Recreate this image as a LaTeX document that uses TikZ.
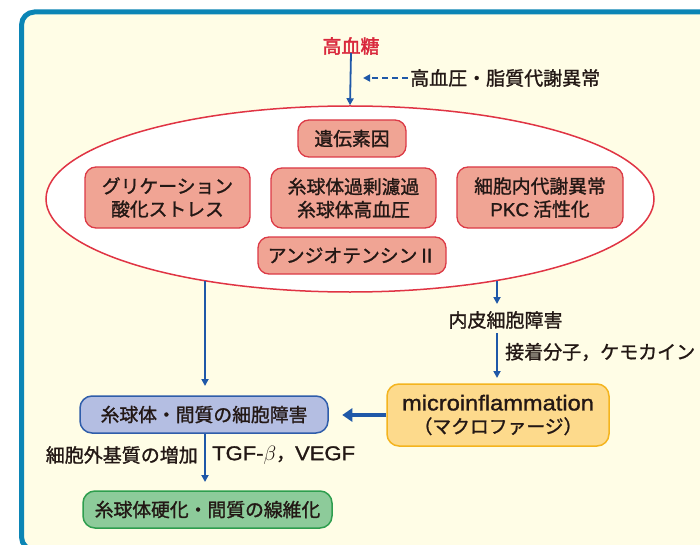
\documentclass[tikz,border=0pt]{standalone}
\usepackage{fontspec}
\setmainfont[FakeBold=1.3]{Noto Sans CJK JP}
\newfontfamily\latinfont[FakeBold=1.3]{Liberation Sans}
\newfontfamily\latinwide[FakeStretch=1.1,FakeBold=1.3]{Liberation Sans}
\newfontfamily\heavyfont[FakeBold=2.2]{Noto Sans CJK JP}
\usetikzlibrary{arrows.meta,shapes.geometric}
\definecolor{cream}{HTML}{FFFDE6}
\definecolor{framec}{HTML}{0B85B5}
\definecolor{redtxt}{HTML}{D9283C}
\definecolor{ellred}{HTML}{E03444}
\definecolor{salfill}{HTML}{F0A494}
\definecolor{saledge}{HTML}{DC3A46}
\definecolor{arrblue}{HTML}{1F58A8}
\definecolor{bluefill}{HTML}{B4BEE2}
\definecolor{blueedge}{HTML}{2F5DAA}
\definecolor{orgfill}{HTML}{FDDA8C}
\definecolor{orgedge}{HTML}{F4B41E}
\definecolor{grnfill}{HTML}{8DCB9A}
\definecolor{grnedge}{HTML}{2E9E4E}
\definecolor{txt}{HTML}{231815}
\tikzset{
  every node/.style={text=txt, font=\fontsize{18.8}{23}\selectfont, inner sep=0pt},
  salbox/.style={draw=saledge, fill=salfill, line width=1.3pt, rounded corners=11pt, align=center},
  conn/.style={draw=arrblue, line width=1.8pt, -{Triangle[width=7pt,length=7pt]}},
  fat/.style={draw=arrblue, line width=4.5pt, -{Triangle[width=13pt,length=10pt]}},
  lbl/.style={font=\fontsize{19}{22}\selectfont}
}
\begin{document}
\begin{tikzpicture}[x=1pt,y=-1pt]
\useasboundingbox (0,0) rectangle (700,545);
\fill[white] (0,0) rectangle (700,545);
\begin{scope}
\clip (0,0) rectangle (700,545);
\draw[framec, fill=cream, line width=5pt, rounded corners=13pt] (21.5,12) rectangle (740,550);
\end{scope}

% top
\node[text=redtxt, font=\heavyfont\fontsize{19}{23}\selectfont] (hg) at (351,46) {高血糖};
\node[lbl, anchor=west] (hbp) at (410,78) {高血圧・脂質代謝異常};

% ellipse
\node[draw=ellred, fill=white, line width=1.5pt, ellipse, minimum width=608pt, minimum height=186pt] (E) at (350,199) {};

\node[salbox, minimum width=108pt, minimum height=37pt] (gen) at (352,138.5) {遺伝素因};
\node[salbox, minimum width=165pt, minimum height=61pt] (gly) at (167.5,197.5) {グリケーション\\酸化ストレス};
\node[salbox, minimum width=165pt, minimum height=60pt] (hyp) at (353.5,198) {糸球体過剰濾過\\糸球体高血圧};
\node[salbox, minimum width=166pt, minimum height=61pt] (met) at (540,197.5) {細胞内代謝異常\\{\latinfont PKC} 活性化};
\node[salbox, minimum width=188pt, minimum height=37pt] (ang) at (352,255.5) {アンジオテンシンⅡ};

% lower
\node[lbl] (endo) at (505.5,320) {内皮細胞障害};
\node[lbl, anchor=west] (adh) at (505,352) {接着分子，ケモカイン};
\node[draw=orgedge, fill=orgfill, line width=1.5pt, rounded corners=12pt, minimum width=222pt, minimum height=62pt, align=center] (mic) at (498,415) {{\latinwide\fontsize{21.5}{22}\selectfont microinflammation}\\（マクロファージ）};
\node[draw=blueedge, fill=bluefill, line width=1.5pt, rounded corners=12pt, minimum width=248pt, minimum height=37pt] (cell) at (204,414.5) {糸球体・間質の細胞障害};
\node[draw=grnedge, fill=grnfill, line width=1.5pt, rounded corners=12pt, minimum width=249pt, minimum height=37pt] (scl) at (207.5,509.5) {糸球体硬化・間質の線維化};
\node[lbl, anchor=east] (ecm) at (198,455) {細胞外基質の増加};
\node[lbl, anchor=west] (tgf) at (212,455) {{\latinwide\fontsize{20}{22}\selectfont TGF-$\beta$}，{\latinwide\fontsize{20}{22}\selectfont VEGF}};

% connectors
\coordinate (dashstart) at (408,78);
\coordinate (dashend) at (363,78);
\coordinate (eleft) at (205,281);
\coordinate (eright) at (497,281);
\coordinate (endotop) at (497,304);
\coordinate (endobot) at (497,333);
\coordinate (micin) at (497,378);
\coordinate (cellin) at (205,386);
\coordinate (sclin) at (205,482);

\draw[conn] (hg.south) ++(0,-2) coordinate (hgs) -- (E.north);
\draw[conn, dash pattern=on 6pt off 4pt, line width=1.8pt] (dashstart) -- (dashend);
\draw[conn] (eleft) -- (cellin);
\draw[conn] (eright) -- (endotop);
\draw[conn] (endobot) -- (micin);
\draw[fat] (mic.west) -- ++(-44,0) coordinate (fattip);
\draw[conn] (cell.south -| sclin) -- (sclin);
\end{tikzpicture}
\end{document}
